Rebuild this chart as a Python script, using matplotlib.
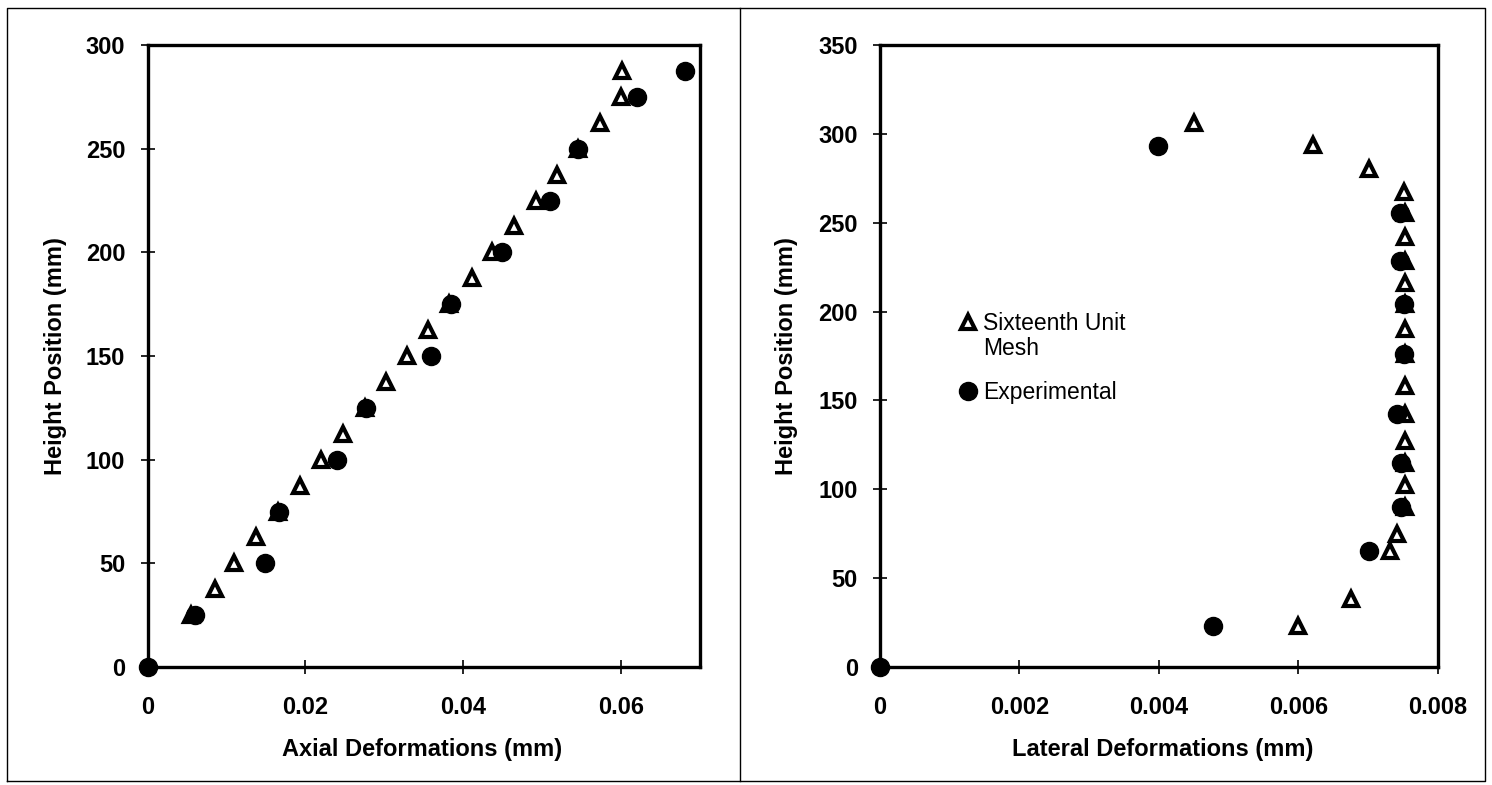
import matplotlib
matplotlib.use("Agg")
import matplotlib.pyplot as plt
from matplotlib.lines import Line2D

plt.rcParams['font.family'] = ['Liberation Sans', 'DejaVu Sans']

# ---------------- data: axial (left panel) ----------------
axial_mesh_x = [0.0055, 0.0086, 0.0110, 0.0138, 0.0165, 0.0193, 0.0220, 0.0248,
                0.0275, 0.0302, 0.0329, 0.0356, 0.0382, 0.0411, 0.0437, 0.0464,
                0.0492, 0.0519, 0.0546, 0.0573, 0.0600, 0.0601]
axial_mesh_y = [25, 37.5, 50, 62.5, 75, 87.5, 100, 112.5, 125, 137.5, 150, 162.5,
                175, 187.5, 200, 212.5, 225, 237.5, 250, 262.5, 275, 287.5]
axial_exp_x = [0.0, 0.0060, 0.0149, 0.0167, 0.0240, 0.0277, 0.0359, 0.0384,
               0.0449, 0.0510, 0.0546, 0.0620, 0.0681]
axial_exp_y = [0, 25, 50, 75, 100, 125, 150, 175, 200, 225, 250, 275, 287.5]

# ---------------- data: lateral (right panel) ----------------
lat_mesh_x = [0.00600, 0.00675, 0.00732, 0.00741, 0.00753, 0.00753, 0.00753, 0.00753,
              0.00753, 0.00753, 0.00753, 0.00753, 0.00753, 0.00753, 0.00753, 0.00753,
              0.00753, 0.00752, 0.00702, 0.00621, 0.00451]
lat_mesh_y = [23, 38, 65, 75, 90, 102.5, 115, 127, 142.5, 158, 176, 190, 204.5,
              216, 228.5, 242, 255.5, 267.5, 280, 293.5, 306]
lat_exp_x = [0.0, 0.00478, 0.00701, 0.00748, 0.00748, 0.00741, 0.00751, 0.00751,
             0.00746, 0.00746, 0.00399]
lat_exp_y = [0, 23, 65, 90, 115, 142.5, 176, 204.5, 228.5, 255.5, 293]

axial_xticks = [0, 0.02, 0.04, 0.06]
axial_xlabels = ['0', '0.02', '0.04', '0.06']
axial_yticks = [0, 50, 100, 150, 200, 250, 300]
lat_xticks = [0, 0.002, 0.004, 0.006, 0.008]
lat_xlabels = ['0', '0.002', '0.004', '0.006', '0.008']
lat_yticks = [0, 50, 100, 150, 200, 250, 300, 350]

series_names = ['Sixteenth Unit', 'Experimental']
series_name_cont = 'Mesh'

W, H = 1492, 785
fig = plt.figure(figsize=(W / 100, H / 100), dpi=100)

ax1 = fig.add_axes([147.5 / W, (H - 667) / H, (700 - 147.5) / W, (667 - 45) / H])
ax2 = fig.add_axes([880 / W, (H - 667) / H, (1437.7 - 880) / W, (667 - 45) / H])

tri_kw = dict(marker='^', linestyle='none', markersize=10.5, markerfacecolor='white',
              markeredgecolor='black', markeredgewidth=3.0, clip_on=False)
dot_kw = dict(marker='o', linestyle='none', markersize=13, markerfacecolor='black',
              markeredgecolor='black', clip_on=False)

ax1.plot(axial_mesh_x, axial_mesh_y, **tri_kw)
ax1.plot(axial_exp_x, axial_exp_y, **dot_kw)
ax2.plot(lat_mesh_x, lat_mesh_y, label=series_names[0], **tri_kw)
ax2.plot(lat_exp_x, lat_exp_y, label=series_names[1], **dot_kw)

ax1.set_xlim(0, 0.07)
ax1.set_ylim(0, 300)
ax2.set_xlim(0, 0.008)
ax2.set_ylim(0, 350)

ax1.set_xticks(axial_xticks)
ax1.set_xticklabels(axial_xlabels)
ax1.set_yticks(axial_yticks)
ax2.set_xticks(lat_xticks)
ax2.set_xticklabels(lat_xlabels)
ax2.set_yticks(lat_yticks)

for ax, xl in ((ax1, 'Axial Deformations (mm)'), (ax2, 'Lateral Deformations (mm)')):
    for s in ax.spines.values():
        s.set_linewidth(2.4)
    ax.tick_params(direction='inout', length=10, width=1.2, labelsize=17)
    ax.tick_params(axis='y', pad=11)
    ax.tick_params(axis='x', pad=16)
    for lab in ax.get_xticklabels() + ax.get_yticklabels():
        lab.set_fontweight('bold')
    ax.set_xlabel(xl, fontsize=17, fontweight='bold')
    ax.set_ylabel('Height Position (mm)', fontsize=17, fontweight='bold')
    ax.xaxis.label.set_va('center')
    ax.yaxis.label.set_va('center')

ax1.xaxis.set_label_coords(0.497, -0.132)
ax1.yaxis.set_label_coords(-0.167, 0.50)
ax2.xaxis.set_label_coords(0.506, -0.132)
ax2.yaxis.set_label_coords(-0.167, 0.50)

leg = ax2.legend(loc='upper left', bbox_to_anchor=(0.137, 0.571), frameon=False,
                 fontsize=16.5, handletextpad=0.15, handlelength=1.0,
                 labelspacing=2.0, borderaxespad=0, borderpad=0)
# second line of the first legend label
ax2.text(0.1847, 0.5016, series_name_cont, transform=ax2.transAxes,
         fontsize=16.5, ha='left', va='baseline')

# outer frame and panel separator
frame_kw = dict(color='black', linewidth=1.0, transform=fig.transFigure)
x0, x1 = 7 / W, 1485 / W
y0, y1 = (H - 781) / H, (H - 8) / H
fig.add_artist(Line2D([x0, x1, x1, x0, x0], [y0, y0, y1, y1, y0], **frame_kw))
fig.add_artist(Line2D([740 / W, 740 / W], [y0, y1], **frame_kw))

fig.savefig('out.png', dpi=100)
